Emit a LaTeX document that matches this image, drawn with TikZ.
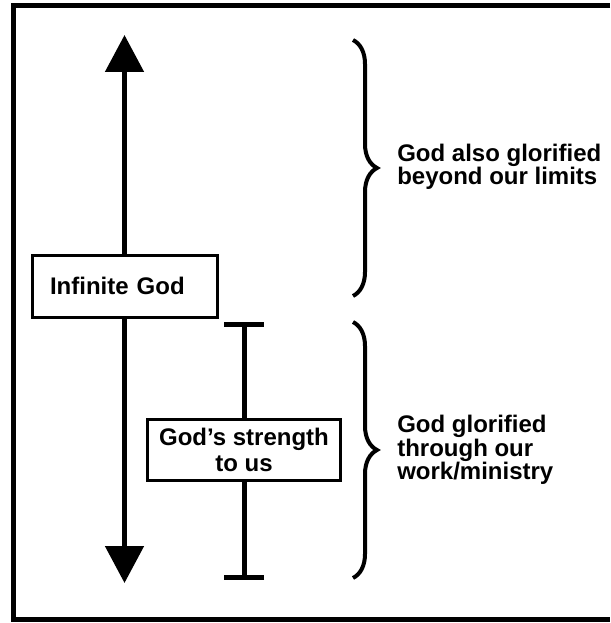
\documentclass[tikz,border=0pt]{standalone}
\usepackage{fontspec}
\setmainfont{Liberation Sans}
\usetikzlibrary{arrows.meta,positioning,decorations.pathreplacing}
\tikzset{
  box/.style={draw, line width=2.25pt, fill=white, inner sep=0pt,
              font=\fontsize{18}{19.5}\selectfont\bfseries},
  arrow/.style={-{Triangle[length=27.75pt, width=28.5pt]}, line width=3.75pt},
  barline/.style={-{Bar[width=30pt]}, line width=3.75pt},
  bracket/.style={decorate, decoration={brace, amplitude=18pt}, line width=3pt},
  notetext/.style={anchor=west, inner sep=0pt, align=left,
              font=\fontsize{18}{17.6}\selectfont\bfseries}
}
\begin{document}
\begin{tikzpicture}[x=0.75pt, y=-0.75pt]
\useasboundingbox (0,0) rectangle (610,623);
% frame, cut off on the right
\draw[line width=3.75pt] (610,6) -- (13,6) -- (13,619) -- (610,619);
\node[box, text width=111.75pt, inner xsep=13.5pt, minimum height=46.5pt, align=left] (inf) at (124.5,286) {Infinite God};
\node[box, minimum width=144.75pt, minimum height=45.75pt, align=center] (strength) at (244,449.5) {God's strength\\to us};
\coordinate (top) at (124.5,35);
\coordinate (bottom) at (124.5,583);
\coordinate (cap) at (244,322);
\coordinate (foot) at (244,580);
\draw[arrow] (inf) -- (top);
\draw[arrow] (inf) -- (bottom);
\draw[barline] (strength) -- (cap);
\draw[barline] (strength) -- (foot);
% braces and what they stand for
\coordinate (upA) at (353,40);
\coordinate (upB) at (353,296);
\coordinate (lowA) at (353,322);
\coordinate (lowB) at (353,578);
\draw[bracket] (upA) -- (upB);
\draw[bracket] (lowA) -- (lowB);
\node[notetext] (beyond) at (397,167) {God also glorified\\beyond our limits};
\node[notetext] (work) at (397,450) {God glorified\\through our\\work/ministry};
\end{tikzpicture}
\end{document}
